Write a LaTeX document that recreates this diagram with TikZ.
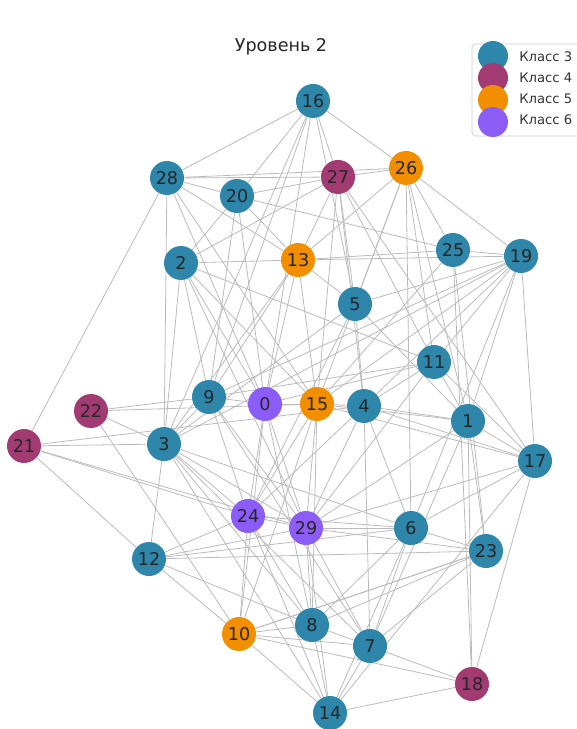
\documentclass[tikz,border=0pt]{standalone}
\usepackage{fontspec}
\setmainfont{DejaVu Sans}
\usetikzlibrary{backgrounds}
\definecolor{cthree}{HTML}{2E86AB}
\definecolor{cfour}{HTML}{A23B72}
\definecolor{cfive}{HTML}{F18F01}
\definecolor{csix}{HTML}{8B5CF6}
\tikzset{vertex/.style = {circle, minimum size=0.68cm, inner sep=0pt, text=black!85, font=\fontsize{10}{11}\selectfont},
         edge/.style = {draw=black!27, line width=0.45pt},
         keydot/.style = {circle, minimum size=0.6cm, inner sep=0pt},
         keytext/.style = {anchor=west, inner sep=0pt, text=black!80, font=\fontsize{7.5}{8}\selectfont}}

\begin{document}
\begin{tikzpicture}[x=0.2mm, y=-0.2mm]
    \useasboundingbox (0,0) rectangle (576,729);
    \node[font=\fontsize{10}{12}\selectfont, text=black!85] (title) at (281,47) {Уровень 2};

    \foreach \n/\x/\y/\c in {16/313/101/cthree, 28/167/178/cthree, 20/237/196/cthree, 27/338/177/cfour,
        26/406/168/cfive, 25/453/250/cthree, 19/521/256/cthree, 2/181/263/cthree, 13/298/260/cfive,
        5/355/304/cthree, 11/434/362/cthree, 9/209/397/cthree, 0/265/404/csix, 15/317/404/cfive,
        4/364/406/cthree, 1/468/421/cthree, 22/91/411/cfour, 21/24/446/cfour, 3/164/444/cthree,
        17/535/461/cthree, 24/248/516/csix, 29/306/528/csix, 6/411/528/cthree, 23/486/551/cthree,
        12/149/559/cthree, 10/239/634/cfive, 8/312/625/cthree, 7/370/646/cthree, 18/472/684/cfour,
        14/330/713/cthree}
        \node[vertex, fill=\c] (n\n) at (\x,\y) {\n};

    \begin{scope}[on background layer]
    \foreach \a/\b in {16/28, 16/20, 16/3, 16/9, 16/27, 16/5, 16/26, 16/0,
        28/27, 28/26, 28/20, 28/13, 28/21, 28/3, 28/0, 28/15,
        20/27, 20/25, 20/13, 20/2, 20/9, 20/0,
        27/26, 27/13, 27/2, 27/5, 27/4, 27/11, 27/15, 27/17,
        26/19, 26/25, 26/13, 26/5, 26/15, 26/11, 26/1, 26/6,
        25/19, 25/13, 25/18, 25/23, 25/15,
        19/13, 19/5, 19/15, 19/9, 19/4, 19/11, 19/1, 19/17, 19/6, 19/3,
        2/13, 2/9, 2/3, 2/0, 2/11, 2/29, 2/15,
        13/5, 13/0, 13/15, 13/9, 13/3,
        5/3, 5/4, 5/24, 5/1,
        11/4, 11/9, 11/1, 11/17, 11/0, 11/29,
        9/22, 9/0, 9/3, 9/24, 9/29, 9/7,
        0/15, 0/24, 0/29, 0/8, 0/10,
        15/4, 15/24, 15/29, 15/10, 15/8, 15/1, 15/17,
        4/1, 4/17, 4/6, 4/7, 4/29, 4/24, 4/21,
        1/17, 1/18, 1/23, 1/29, 1/7,
        17/29, 17/6, 17/14, 17/18,
        22/3, 22/10, 22/15,
        21/3, 21/24, 21/29, 21/12,
        3/12, 3/24, 3/29, 3/8, 3/7, 3/14, 3/6,
        24/29, 24/12, 24/10, 24/8, 24/6, 24/14,
        29/6, 29/23, 29/8, 29/7, 29/14, 29/12,
        6/23, 6/7, 6/14, 6/8, 6/12,
        23/8, 23/10, 23/7, 23/12,
        12/10, 12/8,
        10/8, 10/7, 10/18, 10/14, 10/23,
        8/7, 8/14, 7/18, 7/14, 14/18}
        \draw[edge] (n\a) -- (n\b);
    \end{scope}

    % legend
    \draw[draw=black!20, fill=white, rounded corners=2pt] (472,44) rectangle (590,136);
    \node[keydot, fill=cthree] (k3) at (493,56) {};
    \node[keydot, fill=cfour] (k4) at (493,78) {};
    \node[keydot, fill=cfive] (k5) at (493,100) {};
    \node[keydot, fill=csix] (k6) at (493,122) {};
    \node[keytext] (t3) at (519,57) {Класс 3};
    \node[keytext] (t4) at (519,78) {Класс 4};
    \node[keytext] (t5) at (519,99) {Класс 5};
    \node[keytext] (t6) at (519,120) {Класс 6};
\end{tikzpicture}
\end{document}
